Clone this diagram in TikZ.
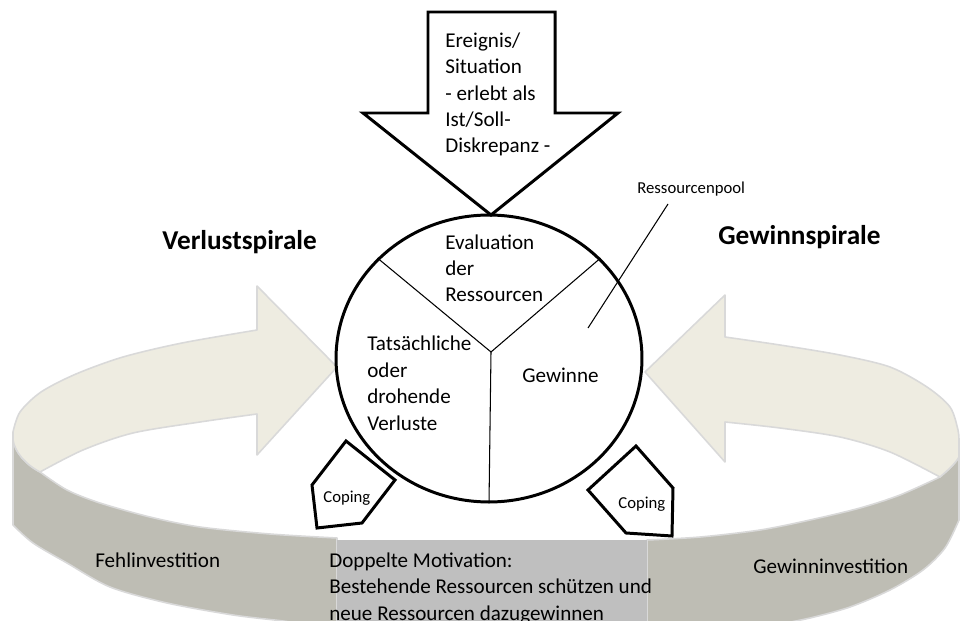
\documentclass[tikz,border=0pt]{standalone}
\usepackage{fontspec}
\setmainfont{Carlito}
\usetikzlibrary{shapes.geometric}
\definecolor{beige}{HTML}{EEECE1}
\definecolor{bandgray}{HTML}{BEBDB4}
\definecolor{boxgray}{HTML}{BFBFBF}
\definecolor{edgegray}{HTML}{D9D9D9}
\tikzset{
  topface/.style={fill=beige, draw=edgegray, line width=0.9pt, line join=round},
  sideface/.style={fill=bandgray, draw=edgegray, line width=0.9pt, line join=round},
  heavy/.style={draw=black, line width=1.7pt},
  divline/.style={draw=black, line width=0.6pt},
  txt/.style={font=\fontsize{12}{15}\selectfont, inner sep=0pt, align=left},
  smalltxt/.style={font=\fontsize{9.5}{11}\selectfont, inner sep=0pt},
  titletxt/.style={font=\fontsize{15.5}{18}\selectfont\bfseries, inner sep=0pt},
}
\begin{document}
\begin{tikzpicture}[x=0.02cm,y=-0.02cm]
\useasboundingbox (0,0) rectangle (960,621);
\clip (0,0) rectangle (960,621);
% side faces of the ring
\draw[sideface] (13,440) .. controls (15,452) and (25,464) .. (40,472)
  -- plot[smooth] coordinates {(40,472) (67,490) (100,503) (150,517) (200,527) (270,534) (337,538)}
  -- (337,640) -- (300,640)
  -- plot[smooth] coordinates {(300,624) (283,621) (233,615) (167,603) (110,587) (67,563) (33,543) (13,525)}
  -- cycle;
\draw[sideface] (940,477) .. controls (948,470) and (955,464) .. (959,457) -- (959,520)
  -- plot[smooth] coordinates {(959,520) (945,548) (923,570) (890,590) (850,607) (810,618) (770,626)}
  -- (647,640) -- (647,540)
  -- plot[smooth] coordinates {(647,540) (700,537) (760,530) (810,520) (860,508) (900,495) (940,477)} -- cycle;
% top faces (arrows)
\draw[topface] (13,440) -- (13,432)
  -- plot[smooth] coordinates {(13,432) (20,412) (41,392) (76,374) (123,357) (182,343) (257,330)}
  -- (257,286) -- (337,367) -- (257,455) -- (257,414)
  -- plot[smooth] coordinates {(257,414) (200,422) (133,433) (83,450) (40,472)}
  .. controls (25,464) and (15,452) .. (13,440) -- cycle;
\draw[topface] (959,457) -- (959,443)
  -- plot[smooth] coordinates {(959,443) (958,430) (950,407) (927,387) (890,367) (840,355) (780,345) (725,337)}
  -- (725,295) -- (645,372) -- (725,462) -- (725,422)
  -- plot[smooth] coordinates {(725,422) (780,428) (840,437) (890,452) (940,477)}
  .. controls (948,470) and (955,464) .. (959,457) -- cycle;
% middle box
\fill[boxgray] (337,540) rectangle (647,640);
% resource pool circle
\node[heavy, fill=white, ellipse, minimum width=6.12cm, minimum height=5.74cm, inner sep=0pt] (pool) at (489,358.5) {};
\coordinate (mid) at (491,352);
\draw[divline] (mid) -- (pool.138);
\draw[divline] (mid) -- (pool.42);
\draw[divline] (mid) -- (pool.south);
% event arrow
\draw[heavy, fill=white] (428,12) -- (555,12) -- (555,113) -- (618,113) -- (491,215) -- (363,113) -- (428,113) -- cycle;
\node[txt, anchor=base west] (event) at (445,153) {Ereignis/\\Situation\\- erlebt als\\Ist/Soll-\\Diskrepanz -};
% coping pentagons
\draw[heavy, fill=white] (346,441) -- (395,480) -- (362,523) -- (317,528) -- (312,485) -- cycle;
\node[smalltxt, anchor=base west] (copl) at (323,502) {Coping};
\draw[heavy, fill=white] (636,446) -- (673,488) -- (672,536) -- (626,533) -- (588,490) -- cycle;
\node[smalltxt, anchor=base west] (copr) at (618,508) {Coping};
% texts in the circle
\node[txt, anchor=base west] (evaltext) at (445,302) {Evaluation\\der\\Ressourcen};
\node[txt, anchor=base west] (losstext) at (367,430) {Tatsächliche\\oder\\drohende\\Verluste};
\node[txt, anchor=base west] (gaintext) at (522,382) {Gewinne};
% pool label
\node[smalltxt, anchor=base west] (pooltext) at (637,194) {Ressourcenpool};
\coordinate (poolstart) at (668,204);
\coordinate (pooltip) at (588,328);
\draw[divline] (poolstart) -- (pooltip);
% titles
\node[titletxt, anchor=base west] (lossspiral) at (162,250) {Verlustspirale};
\node[titletxt, anchor=base west] (gainspiral) at (718,245) {Gewinnspirale};
% band labels
\node[txt, anchor=base west] (fehl) at (95,567) {Fehlinvestition};
\node[txt, anchor=base west] (gewinv) at (753,573) {Gewinninvestition};
\node[txt, anchor=base west] (motiv) at (329,620) {Doppelte Motivation:\\Bestehende Ressourcen schützen und\\neue Ressourcen dazugewinnen};
\end{tikzpicture}
\end{document}
